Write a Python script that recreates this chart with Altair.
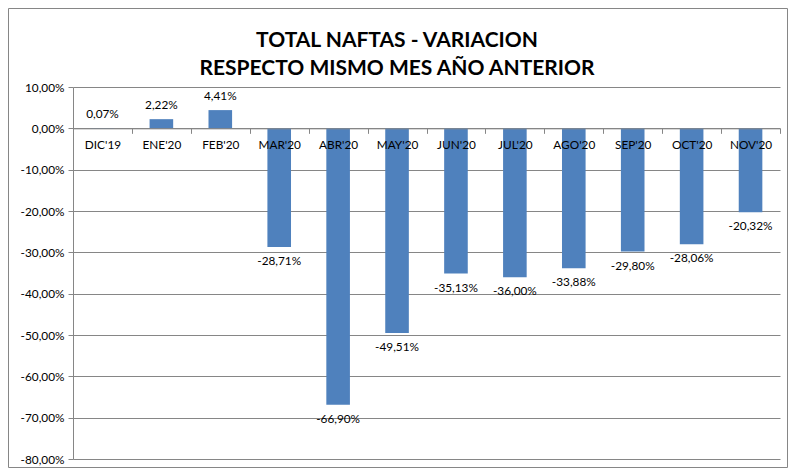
import altair as alt
import pandas as pd

months = ["DIC'19", "ENE'20", "FEB'20", "MAR'20", "ABR'20", "MAY'20",
          "JUN'20", "JUL'20", "AGO'20", "SEP'20", "OCT'20", "NOV'20"]
values = [0.07, 2.22, 4.41, -28.71, -66.90, -49.51,
          -35.13, -36.00, -33.88, -29.80, -28.06, -20.32]
y_ticks = [10, 0, -10, -20, -30, -40, -50, -60, -70, -80]
title_lines = ["TOTAL NAFTAS - VARIACION", "RESPECTO MISMO  MES AÑO ANTERIOR"]

W, H = 707, 372
Y_MIN, Y_MAX = -80, 10
FONT = "Lato"
FS = 11.8
GRID = "#868686"
BLUE = "#4F81BD"

df = pd.DataFrame({"mes": months, "v": values})
zero_from_top = H * Y_MAX / (Y_MAX - Y_MIN)

pct = "(%s < 0 ? '-' : '') + replace(format(abs(%s), '.2f'), '.', ',') + '%%'"

x = alt.X(
    "mes:N", sort=months,
    scale=alt.Scale(paddingInner=0, paddingOuter=0),
    axis=alt.Axis(title=None, orient="bottom", offset=-(H - zero_from_top),
                  tickBand="extent", tickSize=5, tickColor=GRID, domainColor=GRID,
                  labelAngle=0, labelFont=FONT, labelFontSize=FS, labelColor="black",
                  labelPadding=6, zindex=1, grid=False),
)
y = alt.Y(
    "v:Q",
    scale=alt.Scale(domain=[Y_MIN, Y_MAX], nice=False),
    axis=alt.Axis(title=None, values=y_ticks, labelExpr=pct % ("datum.value", "datum.value"),
                  grid=True, gridColor=GRID, domainColor=GRID, tickColor=GRID,
                  tickSize=5, labelPadding=4, labelFont=FONT, labelFontSize=FS,
                  labelColor="black"),
)

base = alt.Chart(df).transform_calculate(lab=pct % ("datum.v", "datum.v"))

bars = base.mark_bar(size=23.6, color=BLUE).encode(x=x, y=y)
pos_lab = base.transform_filter("datum.v >= 0").mark_text(
    font=FONT, fontSize=FS, color="black", baseline="middle", dy=-14
).encode(x=x, y=y, text="lab:N")
neg_lab = base.transform_filter("datum.v < 0").mark_text(
    font=FONT, fontSize=FS, color="black", baseline="middle", dy=14
).encode(x=x, y=y, text="lab:N")

title_df = pd.DataFrame({"t": ["\n".join(title_lines)]})
title = alt.Chart(title_df).mark_text(
    font=FONT, fontSize=21, fontWeight="bold", color="black",
    align="center", baseline="middle", lineBreak="\n", lineHeight=28
).encode(x=alt.value(324), y=alt.value(-46), text="t:N")

border = alt.Chart(pd.DataFrame({"a": [0]})).mark_rect(
    fillOpacity=0, stroke=GRID, strokeWidth=1
).encode(x=alt.value(-64.5), x2=alt.value(W + 7.5), y=alt.value(-78.5), y2=alt.value(H + 8.5))

chart = alt.layer(bars, pos_lab, neg_lab, title, border).properties(
    width=W, height=H,
    padding={"left": 65, "top": 79, "right": 8, "bottom": 9},
    autosize=alt.AutoSizeParams(type="none"),
    background="white",
).configure_view(strokeWidth=0)

chart.save("out.html", embed_options={"renderer": "svg", "actions": False})
